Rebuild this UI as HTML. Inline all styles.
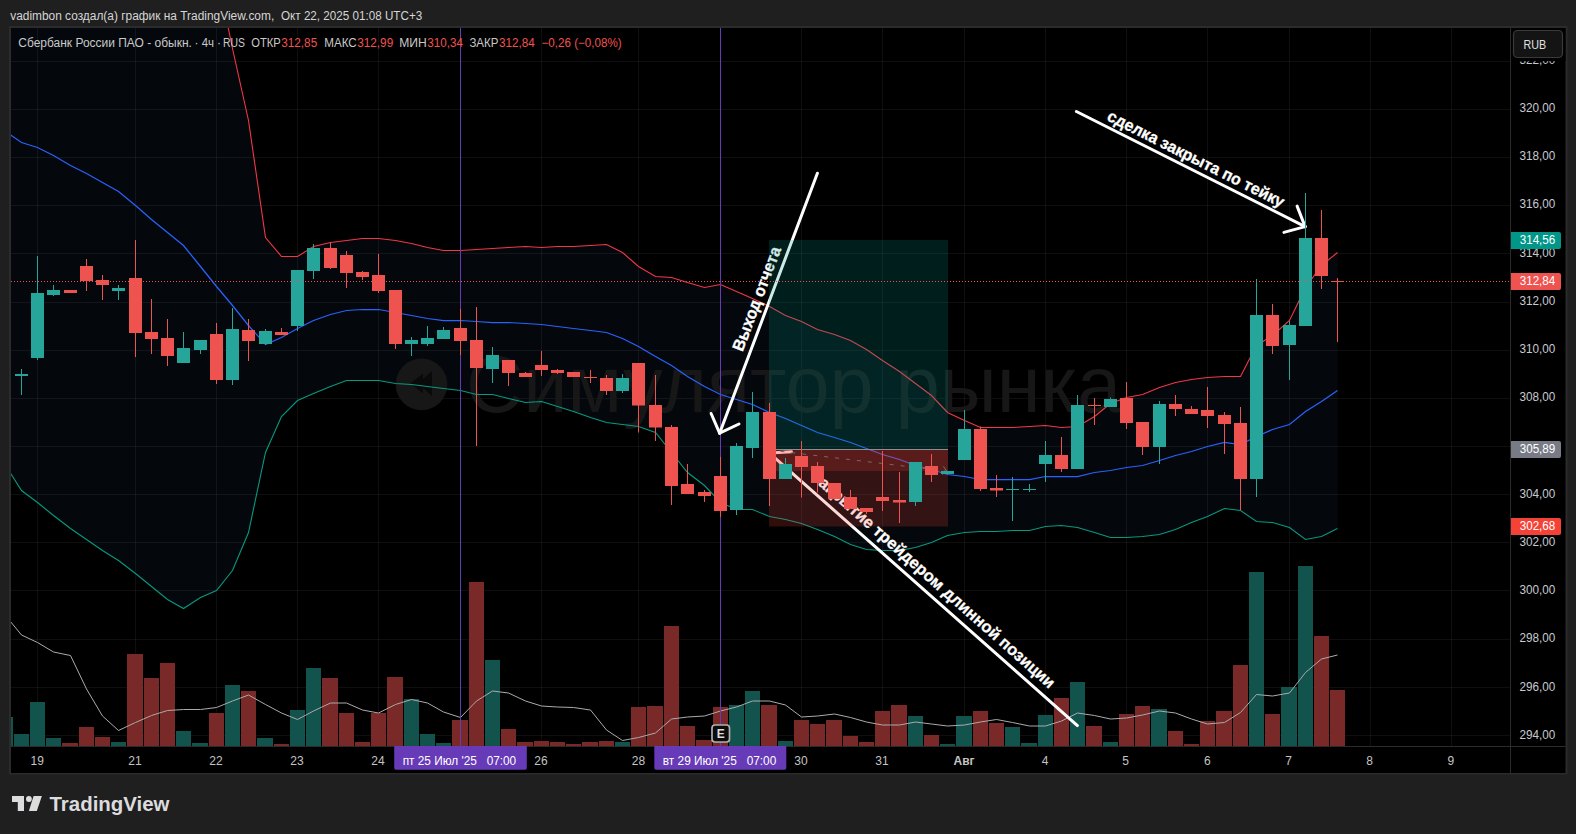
<!DOCTYPE html>
<html lang="ru"><head><meta charset="utf-8"><title>Сбербанк России ПАО — график TradingView</title>
<style>html,body{margin:0;padding:0;background:#1f1f1f;}body{width:1576px;height:834px;overflow:hidden;font-family:"Liberation Sans","DejaVu Sans",sans-serif;}svg{display:block;position:absolute;left:0;top:0}text{font-family:"Liberation Sans","DejaVu Sans",sans-serif;}</style></head><body>
<svg width="1576" height="834" viewBox="0 0 1576 834">
<defs><clipPath id="pane"><rect x="11" y="28" width="1499" height="718"/></clipPath></defs>
<rect width="1576" height="834" fill="#1f1f1f"/>
<text y="19.6" font-size="12" fill="#d6d6d6"><tspan x="10.2" textLength="264" lengthAdjust="spacingAndGlyphs">vadimbon создал(а) график на TradingView.com,</tspan><tspan> </tspan><tspan x="281" textLength="141.2" lengthAdjust="spacingAndGlyphs">Окт 22, 2025 01:08 UTC+3</tspan></text>
<rect x="9" y="26" width="1558.5" height="748.5" fill="#2b2b2b"/>
<rect x="11" y="28" width="1554.5" height="745" fill="#000"/>
<g clip-path="url(#pane)">
<polygon points="5.5,-30.0 216.5,-30.0 232.5,48.0 248.5,120.0 265.5,237.0 281.5,256.0 297.5,256.0 313.5,246.0 330.5,242.0 346.5,240.0 362.5,238.0 378.5,238.0 395.5,240.0 411.5,243.5 427.5,247.0 443.5,250.5 460.5,250.5 476.5,249.5 492.5,248.5 508.5,247.5 525.5,246.5 541.5,247.5 557.5,246.5 573.5,246.0 590.5,245.0 606.5,244.0 622.5,252.5 638.5,266.0 655.5,276.0 671.5,277.0 687.5,282.0 704.5,287.5 720.5,284.5 736.5,291.0 752.5,298.5 769.5,306.0 785.5,315.0 801.5,321.0 817.5,329.0 834.5,334.5 850.5,340.0 866.5,349.0 882.5,360.0 899.5,371.0 915.5,383.0 931.5,395.0 947.5,412.5 964.5,420.0 980.5,427.0 996.5,427.0 1012.5,427.0 1029.5,426.0 1045.5,425.0 1061.5,427.5 1077.5,426.0 1094.5,416.0 1110.5,403.0 1126.5,397.0 1142.5,394.5 1159.5,387.0 1175.5,382.0 1191.5,379.0 1207.5,377.0 1224.5,376.5 1240.5,376.5 1256.5,345.0 1272.5,335.0 1289.5,320.0 1305.5,287.5 1321.5,265.0 1337.5,252.0 1337.5,528.5 1321.5,536.0 1305.5,539.0 1289.5,527.5 1272.5,522.0 1256.5,521.0 1240.5,510.5 1224.5,508.0 1207.5,516.0 1191.5,522.0 1175.5,529.0 1159.5,534.5 1142.5,536.0 1126.5,537.5 1110.5,537.0 1094.5,532.5 1077.5,527.5 1061.5,525.5 1045.5,526.0 1029.5,530.0 1012.5,530.5 996.5,531.0 980.5,531.5 964.5,532.0 947.5,535.5 931.5,542.5 915.5,547.5 899.5,550.5 882.5,550.5 866.5,549.0 850.5,544.0 834.5,536.5 817.5,529.0 801.5,523.0 785.5,519.5 769.5,516.0 752.5,509.0 736.5,509.0 720.5,502.5 704.5,485.0 687.5,472.5 671.5,452.5 655.5,432.5 638.5,426.0 622.5,424.0 606.5,422.0 590.5,417.0 573.5,411.5 557.5,406.0 541.5,401.2 525.5,402.8 508.5,398.4 492.5,394.3 476.5,394.3 460.5,390.1 443.5,388.3 427.5,386.6 411.5,384.8 395.5,383.1 378.5,380.5 362.5,380.0 346.5,380.0 330.5,386.5 313.5,393.5 297.5,400.0 281.5,416.0 265.5,452.5 248.5,532.5 232.5,570.0 216.5,590.0 200.5,597.0 183.5,608.0 167.5,599.0 151.5,586.0 135.5,573.0 118.5,560.0 102.5,550.0 86.5,539.0 70.5,528.0 53.5,515.5 37.5,502.0 21.5,490.5 10.0,472.0 5.5,465.0" fill="#04080c"/>
<line x1="37.5" y1="28" x2="37.5" y2="746" stroke="rgba(255,255,255,0.06)" stroke-width="1"/>
<line x1="135.5" y1="28" x2="135.5" y2="746" stroke="rgba(255,255,255,0.06)" stroke-width="1"/>
<line x1="216.5" y1="28" x2="216.5" y2="746" stroke="rgba(255,255,255,0.06)" stroke-width="1"/>
<line x1="297.5" y1="28" x2="297.5" y2="746" stroke="rgba(255,255,255,0.06)" stroke-width="1"/>
<line x1="378.5" y1="28" x2="378.5" y2="746" stroke="rgba(255,255,255,0.06)" stroke-width="1"/>
<line x1="460.5" y1="28" x2="460.5" y2="746" stroke="rgba(255,255,255,0.06)" stroke-width="1"/>
<line x1="541.5" y1="28" x2="541.5" y2="746" stroke="rgba(255,255,255,0.06)" stroke-width="1"/>
<line x1="638.5" y1="28" x2="638.5" y2="746" stroke="rgba(255,255,255,0.06)" stroke-width="1"/>
<line x1="720.5" y1="28" x2="720.5" y2="746" stroke="rgba(255,255,255,0.06)" stroke-width="1"/>
<line x1="801.5" y1="28" x2="801.5" y2="746" stroke="rgba(255,255,255,0.06)" stroke-width="1"/>
<line x1="882.5" y1="28" x2="882.5" y2="746" stroke="rgba(255,255,255,0.06)" stroke-width="1"/>
<line x1="964.5" y1="28" x2="964.5" y2="746" stroke="rgba(255,255,255,0.06)" stroke-width="1"/>
<line x1="1045.5" y1="28" x2="1045.5" y2="746" stroke="rgba(255,255,255,0.06)" stroke-width="1"/>
<line x1="1126.5" y1="28" x2="1126.5" y2="746" stroke="rgba(255,255,255,0.06)" stroke-width="1"/>
<line x1="1207.5" y1="28" x2="1207.5" y2="746" stroke="rgba(255,255,255,0.06)" stroke-width="1"/>
<line x1="1289.5" y1="28" x2="1289.5" y2="746" stroke="rgba(255,255,255,0.06)" stroke-width="1"/>
<line x1="1370.5" y1="28" x2="1370.5" y2="746" stroke="rgba(255,255,255,0.06)" stroke-width="1"/>
<line x1="1451.5" y1="28" x2="1451.5" y2="746" stroke="rgba(255,255,255,0.06)" stroke-width="1"/>
<line x1="11" y1="735.5" x2="1510" y2="735.5" stroke="rgba(255,255,255,0.06)" stroke-width="1"/>
<line x1="11" y1="687.5" x2="1510" y2="687.5" stroke="rgba(255,255,255,0.06)" stroke-width="1"/>
<line x1="11" y1="639.5" x2="1510" y2="639.5" stroke="rgba(255,255,255,0.06)" stroke-width="1"/>
<line x1="11" y1="590.5" x2="1510" y2="590.5" stroke="rgba(255,255,255,0.06)" stroke-width="1"/>
<line x1="11" y1="542.5" x2="1510" y2="542.5" stroke="rgba(255,255,255,0.06)" stroke-width="1"/>
<line x1="11" y1="494.5" x2="1510" y2="494.5" stroke="rgba(255,255,255,0.06)" stroke-width="1"/>
<line x1="11" y1="446.5" x2="1510" y2="446.5" stroke="rgba(255,255,255,0.06)" stroke-width="1"/>
<line x1="11" y1="398.5" x2="1510" y2="398.5" stroke="rgba(255,255,255,0.06)" stroke-width="1"/>
<line x1="11" y1="350.5" x2="1510" y2="350.5" stroke="rgba(255,255,255,0.06)" stroke-width="1"/>
<line x1="11" y1="302.5" x2="1510" y2="302.5" stroke="rgba(255,255,255,0.06)" stroke-width="1"/>
<line x1="11" y1="253.5" x2="1510" y2="253.5" stroke="rgba(255,255,255,0.06)" stroke-width="1"/>
<line x1="11" y1="205.5" x2="1510" y2="205.5" stroke="rgba(255,255,255,0.06)" stroke-width="1"/>
<line x1="11" y1="157.5" x2="1510" y2="157.5" stroke="rgba(255,255,255,0.06)" stroke-width="1"/>
<line x1="11" y1="109.5" x2="1510" y2="109.5" stroke="rgba(255,255,255,0.06)" stroke-width="1"/>
<line x1="11" y1="61.5" x2="1510" y2="61.5" stroke="rgba(255,255,255,0.06)" stroke-width="1"/>
<g fill="#171717"><circle cx="421.5" cy="384.4" r="25.8"/>
<path d="M423 373.5 L410.4 383.5 L423 393.5 Z M432 371 L418 383.5 L432 396 Z" fill="#0a0a0a"/>
<text x="466" y="412.3" font-size="80" textLength="655" lengthAdjust="spacingAndGlyphs">Симулятор рынка</text></g>
<polyline points="216.5,-29.5 232.5,48.5 248.5,120.5 265.5,237.5 281.5,256.5 297.5,256.5 313.5,246.5 330.5,242.5 346.5,240.5 362.5,238.5 378.5,238.5 395.5,240.5 411.5,243.5 427.5,247.5 443.5,250.5 460.5,250.5 476.5,249.5 492.5,248.5 508.5,247.5 525.5,246.5 541.5,247.5 557.5,246.5 573.5,246.5 590.5,245.5 606.5,244.5 622.5,252.5 638.5,266.5 655.5,276.5 671.5,277.5 687.5,282.5 704.5,287.5 720.5,284.5 736.5,291.5 752.5,298.5 769.5,306.5 785.5,315.5 801.5,321.5 817.5,329.5 834.5,334.5 850.5,340.5 866.5,349.5 882.5,360.5 899.5,371.5 915.5,383.5 931.5,395.5 947.5,412.5 964.5,420.5 980.5,427.5 996.5,427.5 1012.5,427.5 1029.5,426.5 1045.5,425.5 1061.5,427.5 1077.5,426.5 1094.5,416.5 1110.5,403.5 1126.5,397.5 1142.5,394.5 1159.5,387.5 1175.5,382.5 1191.5,379.5 1207.5,377.5 1224.5,376.5 1240.5,376.5 1256.5,345.5 1272.5,335.5 1289.5,320.5 1305.5,287.5 1321.5,265.5 1337.5,252.5" fill="none" stroke="#f23645" stroke-width="1.1"/>
<polyline points="5.5,465.5 10.0,472.5 21.5,490.5 37.5,502.5 53.5,515.5 70.5,528.5 86.5,539.5 102.5,550.5 118.5,560.5 135.5,573.5 151.5,586.5 167.5,599.5 183.5,608.5 200.5,597.5 216.5,590.5 232.5,570.5 248.5,532.5 265.5,452.5 281.5,416.5 297.5,400.5 313.5,393.5 330.5,386.5 346.5,380.5 362.5,380.5 378.5,380.5 395.5,383.5 411.5,384.5 427.5,386.5 443.5,388.5 460.5,390.5 476.5,394.5 492.5,394.5 508.5,398.5 525.5,402.5 541.5,401.5 557.5,406.5 573.5,411.5 590.5,417.5 606.5,422.5 622.5,424.5 638.5,426.5 655.5,432.5 671.5,452.5 687.5,472.5 704.5,485.5 720.5,502.5 736.5,509.5 752.5,509.5 769.5,516.5 785.5,519.5 801.5,523.5 817.5,529.5 834.5,536.5 850.5,544.5 866.5,549.5 882.5,550.5 899.5,550.5 915.5,547.5 931.5,542.5 947.5,535.5 964.5,532.5 980.5,531.5 996.5,531.5 1012.5,530.5 1029.5,530.5 1045.5,526.5 1061.5,525.5 1077.5,527.5 1094.5,532.5 1110.5,537.5 1126.5,537.5 1142.5,536.5 1159.5,534.5 1175.5,529.5 1191.5,522.5 1207.5,516.5 1224.5,508.5 1240.5,510.5 1256.5,521.5 1272.5,522.5 1289.5,527.5 1305.5,539.5 1321.5,536.5 1337.5,528.5" fill="none" stroke="#089981" stroke-width="1.1"/>
<polyline points="5.5,131.5 21.5,142.5 37.5,147.5 53.5,155.5 70.5,165.5 86.5,173.5 102.5,182.5 118.5,191.5 135.5,205.5 151.5,219.5 167.5,232.5 183.5,245.5 200.5,266.5 216.5,286.5 232.5,305.5 248.5,325.5 265.5,344.5 281.5,337.5 297.5,328.5 313.5,320.5 330.5,314.5 346.5,310.5 362.5,309.5 378.5,309.5 395.5,312.5 411.5,315.5 427.5,318.5 443.5,320.5 460.5,320.5 476.5,321.5 492.5,322.5 508.5,322.5 525.5,323.5 541.5,324.5 557.5,326.5 573.5,328.5 590.5,330.5 606.5,332.5 622.5,338.5 638.5,346.5 655.5,356.5 671.5,365.5 687.5,376.5 704.5,386.5 720.5,394.5 736.5,399.5 752.5,404.5 769.5,412.5 785.5,418.5 801.5,425.5 817.5,432.5 834.5,437.5 850.5,442.5 866.5,448.5 882.5,454.5 899.5,459.5 915.5,465.5 931.5,469.5 947.5,474.5 964.5,476.5 980.5,479.5 996.5,479.5 1012.5,479.5 1029.5,479.5 1045.5,476.5 1061.5,476.5 1077.5,476.5 1094.5,472.5 1110.5,470.5 1126.5,467.5 1142.5,465.5 1159.5,460.5 1175.5,455.5 1191.5,451.5 1207.5,446.5 1224.5,442.5 1240.5,444.5 1256.5,436.5 1272.5,429.5 1289.5,424.5 1305.5,411.5 1321.5,401.5 1337.5,390.5" fill="none" stroke="#2962ff" stroke-width="1.25"/>
<rect x="-2.0" y="717.0" width="15.0" height="29.0" fill="#13534d"/>
<rect x="14.0" y="734.0" width="15.0" height="12.0" fill="#13534d"/>
<rect x="30.0" y="702.0" width="15.0" height="44.0" fill="#13534d"/>
<rect x="46.0" y="738.0" width="15.0" height="8.0" fill="#13534d"/>
<rect x="62.0" y="743.0" width="16.0" height="3.0" fill="#782928"/>
<rect x="79.0" y="727.0" width="15.0" height="19.0" fill="#782928"/>
<rect x="95.0" y="737.0" width="15.0" height="9.0" fill="#782928"/>
<rect x="111.0" y="742.0" width="15.0" height="4.0" fill="#13534d"/>
<rect x="127.0" y="654.0" width="16.0" height="92.0" fill="#782928"/>
<rect x="144.0" y="678.0" width="15.0" height="68.0" fill="#782928"/>
<rect x="160.0" y="663.0" width="15.0" height="83.0" fill="#782928"/>
<rect x="176.0" y="731.0" width="15.0" height="15.0" fill="#13534d"/>
<rect x="192.0" y="743.0" width="16.0" height="3.0" fill="#13534d"/>
<rect x="209.0" y="713.0" width="15.0" height="33.0" fill="#782928"/>
<rect x="225.0" y="685.0" width="15.0" height="61.0" fill="#13534d"/>
<rect x="241.0" y="691.0" width="15.0" height="55.0" fill="#782928"/>
<rect x="257.0" y="738.0" width="16.0" height="8.0" fill="#13534d"/>
<rect x="274.0" y="744.0" width="15.0" height="2.0" fill="#782928"/>
<rect x="290.0" y="710.0" width="15.0" height="36.0" fill="#13534d"/>
<rect x="306.0" y="668.0" width="15.0" height="78.0" fill="#13534d"/>
<rect x="322.0" y="678.0" width="16.0" height="68.0" fill="#782928"/>
<rect x="339.0" y="713.0" width="15.0" height="33.0" fill="#782928"/>
<rect x="355.0" y="742.0" width="15.0" height="4.0" fill="#782928"/>
<rect x="371.0" y="713.0" width="15.0" height="33.0" fill="#782928"/>
<rect x="387.0" y="677.0" width="16.0" height="69.0" fill="#782928"/>
<rect x="404.0" y="699.0" width="15.0" height="47.0" fill="#13534d"/>
<rect x="420.0" y="734.0" width="15.0" height="12.0" fill="#13534d"/>
<rect x="436.0" y="743.0" width="15.0" height="3.0" fill="#13534d"/>
<rect x="452.0" y="720.0" width="16.0" height="26.0" fill="#782928"/>
<rect x="469.0" y="582.0" width="15.0" height="164.0" fill="#782928"/>
<rect x="485.0" y="660.0" width="15.0" height="86.0" fill="#13534d"/>
<rect x="501.0" y="729.0" width="15.0" height="17.0" fill="#782928"/>
<rect x="517.0" y="742.0" width="16.0" height="4.0" fill="#782928"/>
<rect x="534.0" y="741.0" width="15.0" height="5.0" fill="#782928"/>
<rect x="550.0" y="742.0" width="15.0" height="4.0" fill="#782928"/>
<rect x="566.0" y="744.0" width="15.0" height="2.0" fill="#782928"/>
<rect x="582.0" y="742.0" width="16.0" height="4.0" fill="#782928"/>
<rect x="599.0" y="741.0" width="15.0" height="5.0" fill="#782928"/>
<rect x="615.0" y="742.0" width="15.0" height="4.0" fill="#13534d"/>
<rect x="631.0" y="707.0" width="15.0" height="39.0" fill="#782928"/>
<rect x="647.0" y="706.0" width="16.0" height="40.0" fill="#782928"/>
<rect x="664.0" y="626.0" width="15.0" height="120.0" fill="#782928"/>
<rect x="680.0" y="726.0" width="15.0" height="20.0" fill="#782928"/>
<rect x="696.0" y="740.0" width="16.0" height="6.0" fill="#782928"/>
<rect x="713.0" y="707.0" width="15.0" height="39.0" fill="#782928"/>
<rect x="729.0" y="705.0" width="15.0" height="41.0" fill="#13534d"/>
<rect x="745.0" y="691.0" width="15.0" height="55.0" fill="#13534d"/>
<rect x="761.0" y="705.0" width="16.0" height="41.0" fill="#782928"/>
<rect x="778.0" y="741.0" width="15.0" height="5.0" fill="#13534d"/>
<rect x="794.0" y="720.0" width="15.0" height="26.0" fill="#782928"/>
<rect x="810.0" y="724.0" width="15.0" height="22.0" fill="#782928"/>
<rect x="826.0" y="720.0" width="16.0" height="26.0" fill="#782928"/>
<rect x="843.0" y="736.0" width="15.0" height="10.0" fill="#782928"/>
<rect x="859.0" y="742.0" width="15.0" height="4.0" fill="#782928"/>
<rect x="875.0" y="711.0" width="15.0" height="35.0" fill="#782928"/>
<rect x="891.0" y="705.0" width="16.0" height="41.0" fill="#782928"/>
<rect x="908.0" y="716.0" width="15.0" height="30.0" fill="#13534d"/>
<rect x="924.0" y="735.0" width="15.0" height="11.0" fill="#782928"/>
<rect x="940.0" y="744.0" width="15.0" height="2.0" fill="#13534d"/>
<rect x="956.0" y="716.0" width="16.0" height="30.0" fill="#13534d"/>
<rect x="973.0" y="711.0" width="15.0" height="35.0" fill="#782928"/>
<rect x="989.0" y="723.0" width="15.0" height="23.0" fill="#782928"/>
<rect x="1005.0" y="727.0" width="15.0" height="19.0" fill="#13534d"/>
<rect x="1021.0" y="743.0" width="16.0" height="3.0" fill="#13534d"/>
<rect x="1038.0" y="715.0" width="15.0" height="31.0" fill="#13534d"/>
<rect x="1054.0" y="698.0" width="15.0" height="48.0" fill="#782928"/>
<rect x="1070.0" y="682.0" width="15.0" height="64.0" fill="#13534d"/>
<rect x="1086.0" y="726.0" width="16.0" height="20.0" fill="#782928"/>
<rect x="1103.0" y="742.0" width="15.0" height="4.0" fill="#13534d"/>
<rect x="1119.0" y="714.0" width="15.0" height="32.0" fill="#782928"/>
<rect x="1135.0" y="706.0" width="15.0" height="40.0" fill="#782928"/>
<rect x="1151.0" y="709.0" width="16.0" height="37.0" fill="#13534d"/>
<rect x="1168.0" y="731.0" width="15.0" height="15.0" fill="#782928"/>
<rect x="1184.0" y="744.0" width="15.0" height="2.0" fill="#782928"/>
<rect x="1200.0" y="721.0" width="15.0" height="25.0" fill="#782928"/>
<rect x="1216.0" y="711.0" width="16.0" height="35.0" fill="#782928"/>
<rect x="1233.0" y="665.0" width="15.0" height="81.0" fill="#782928"/>
<rect x="1249.0" y="572.0" width="15.0" height="174.0" fill="#13534d"/>
<rect x="1265.0" y="714.0" width="15.0" height="32.0" fill="#782928"/>
<rect x="1281.0" y="687.0" width="16.0" height="59.0" fill="#13534d"/>
<rect x="1298.0" y="566.0" width="15.0" height="180.0" fill="#13534d"/>
<rect x="1314.0" y="636.0" width="15.0" height="110.0" fill="#782928"/>
<rect x="1330.0" y="690.0" width="15.0" height="56.0" fill="#782928"/>
<polyline points="5.5,615.0 10.0,621.0 21.5,635.0 37.5,642.5 53.5,652.0 70.5,655.5 86.5,689.0 102.5,716.0 118.5,730.5 135.5,722.5 151.5,715.5 167.5,710.5 183.5,709.5 200.5,709.5 216.5,707.5 232.5,701.0 248.5,695.0 265.5,704.5 281.5,713.0 297.5,719.5 313.5,711.0 330.5,703.0 346.5,703.0 362.5,710.0 378.5,713.0 395.5,704.5 411.5,699.5 427.5,703.0 443.5,712.0 460.5,717.5 476.5,701.0 492.5,691.0 508.5,693.0 525.5,701.0 541.5,706.0 557.5,707.0 573.5,707.5 590.5,710.0 606.5,730.0 622.5,740.5 638.5,737.5 655.5,733.0 671.5,719.0 687.5,717.0 704.5,716.0 720.5,711.0 736.5,707.0 752.5,701.0 769.5,701.0 785.5,705.0 801.5,717.0 817.5,716.0 834.5,714.0 850.5,717.5 866.5,722.0 882.5,725.0 899.5,725.0 915.5,722.0 931.5,724.0 947.5,726.0 964.5,725.0 980.5,722.0 996.5,719.5 1012.5,722.5 1029.5,726.0 1045.5,726.0 1061.5,721.0 1077.5,713.0 1094.5,715.5 1110.5,719.0 1126.5,718.0 1142.5,715.0 1159.5,711.0 1175.5,713.0 1191.5,719.0 1207.5,724.0 1224.5,722.5 1240.5,712.5 1256.5,694.5 1272.5,696.0 1289.5,693.0 1305.5,672.5 1321.5,659.0 1337.5,655.0" fill="none" stroke="#ababab" stroke-width="1"/>
<line x1="460.5" y1="28" x2="460.5" y2="746" stroke="#673ab7" stroke-width="1"/>
<line x1="720.5" y1="28" x2="720.5" y2="746" stroke="#673ab7" stroke-width="1"/>
<g stroke="#fff" stroke-width="3" stroke-linecap="round" fill="none">
<line x1="1077.4" y1="725.6" x2="769.5" y2="453.1"/>
<line x1="769.5" y1="453.1" x2="791.5" y2="451.8"/>
<line x1="769.5" y1="453.1" x2="770.8" y2="475.1"/>
</g>
<text transform="translate(923.5 589.4) rotate(41.51)" x="-159.4" y="-8.5" font-size="16.5" font-weight="bold" fill="#fff" stroke="#fff" stroke-width="0.3" textLength="319.5" lengthAdjust="spacingAndGlyphs">Закрытие трейдером длинной позиции</text>
<g stroke="#fff" stroke-width="3" stroke-linecap="round" fill="none">
<line x1="817.4" y1="173.2" x2="719.6" y2="433.2"/>
<line x1="719.6" y1="433.2" x2="711.1" y2="413.5"/>
<line x1="719.6" y1="433.2" x2="739.0" y2="424.0"/>
</g>
<text transform="translate(768.5 303.2) rotate(290.61)" x="-55.0" y="-7.0" font-size="16.5" font-weight="bold" fill="#fff" stroke="#fff" stroke-width="0.3" textLength="110.0" lengthAdjust="spacingAndGlyphs">Выход отчета</text>
<rect x="769" y="240" width="179" height="209.5" fill="#009688" fill-opacity="0.2"/>
<rect x="769" y="449.5" width="179" height="77" fill="#f44336" fill-opacity="0.2"/>
<rect x="769" y="449.5" width="179" height="21.5" fill="#f44336" fill-opacity="0.2"/>
<line x1="769" y1="449.5" x2="948" y2="449.5" stroke="#8e8e8e" stroke-width="1"/>
<line x1="769.5" y1="450" x2="945.5" y2="471" stroke="#6c6c6c" stroke-width="1" stroke-dasharray="4 7"/>
<path d="M943.5 466.5 L946.5 471 L942.5 474.5" stroke="#727272" stroke-width="1" fill="none"/>
<g stroke="#fff" stroke-width="3" stroke-linecap="round" fill="none">
<line x1="1076.4" y1="111.5" x2="1305.1" y2="226.6"/>
<line x1="1305.1" y1="226.6" x2="1283.9" y2="232.4"/>
<line x1="1305.1" y1="226.6" x2="1297.1" y2="206.1"/>
</g>
<text transform="translate(1190.8 169.1) rotate(26.72)" x="-98.0" y="-6.0" font-size="16.5" font-weight="bold" fill="#fff" stroke="#fff" stroke-width="0.3" textLength="196.0" lengthAdjust="spacingAndGlyphs">сделка закрыта по тейку</text>
<rect x="21.0" y="369.0" width="1" height="26.0" fill="#26a69a"/>
<rect x="15.0" y="374.0" width="13" height="2.0" fill="#26a69a"/>
<rect x="37.0" y="256.0" width="1" height="104.0" fill="#26a69a"/>
<rect x="31.0" y="293.0" width="13" height="65.0" fill="#26a69a"/>
<rect x="53.0" y="285.0" width="1" height="11.0" fill="#26a69a"/>
<rect x="47.0" y="290.0" width="13" height="5.0" fill="#26a69a"/>
<rect x="70.0" y="290.0" width="1" height="3.0" fill="#ef5350"/>
<rect x="64.0" y="290.0" width="13" height="3.0" fill="#ef5350"/>
<rect x="86.0" y="259.0" width="1" height="32.0" fill="#ef5350"/>
<rect x="80.0" y="266.0" width="13" height="15.0" fill="#ef5350"/>
<rect x="102.0" y="275.0" width="1" height="25.0" fill="#ef5350"/>
<rect x="96.0" y="280.0" width="13" height="5.0" fill="#ef5350"/>
<rect x="118.0" y="285.0" width="1" height="15.0" fill="#26a69a"/>
<rect x="112.0" y="288.0" width="13" height="3.0" fill="#26a69a"/>
<rect x="135.0" y="240.0" width="1" height="117.0" fill="#ef5350"/>
<rect x="129.0" y="278.0" width="13" height="55.0" fill="#ef5350"/>
<rect x="151.0" y="299.0" width="1" height="55.0" fill="#ef5350"/>
<rect x="145.0" y="332.0" width="13" height="7.0" fill="#ef5350"/>
<rect x="167.0" y="319.0" width="1" height="47.0" fill="#ef5350"/>
<rect x="161.0" y="338.0" width="13" height="18.0" fill="#ef5350"/>
<rect x="183.0" y="332.0" width="1" height="31.0" fill="#26a69a"/>
<rect x="177.0" y="348.0" width="13" height="15.0" fill="#26a69a"/>
<rect x="200.0" y="340.0" width="1" height="14.0" fill="#26a69a"/>
<rect x="194.0" y="340.0" width="13" height="10.0" fill="#26a69a"/>
<rect x="216.0" y="323.0" width="1" height="61.0" fill="#ef5350"/>
<rect x="210.0" y="334.0" width="13" height="46.0" fill="#ef5350"/>
<rect x="232.0" y="308.0" width="1" height="77.0" fill="#26a69a"/>
<rect x="226.0" y="329.0" width="13" height="51.0" fill="#26a69a"/>
<rect x="248.0" y="319.0" width="1" height="42.0" fill="#ef5350"/>
<rect x="242.0" y="330.0" width="13" height="11.0" fill="#ef5350"/>
<rect x="265.0" y="329.0" width="1" height="16.0" fill="#26a69a"/>
<rect x="259.0" y="331.0" width="13" height="13.0" fill="#26a69a"/>
<rect x="281.0" y="328.0" width="1" height="7.0" fill="#ef5350"/>
<rect x="275.0" y="332.0" width="13" height="3.0" fill="#ef5350"/>
<rect x="297.0" y="270.0" width="1" height="61.0" fill="#26a69a"/>
<rect x="291.0" y="270.0" width="13" height="56.0" fill="#26a69a"/>
<rect x="313.0" y="244.0" width="1" height="35.0" fill="#26a69a"/>
<rect x="307.0" y="248.0" width="13" height="23.0" fill="#26a69a"/>
<rect x="330.0" y="242.0" width="1" height="27.0" fill="#ef5350"/>
<rect x="324.0" y="248.0" width="13" height="20.0" fill="#ef5350"/>
<rect x="346.0" y="251.0" width="1" height="37.0" fill="#ef5350"/>
<rect x="340.0" y="255.0" width="13" height="18.0" fill="#ef5350"/>
<rect x="362.0" y="271.0" width="1" height="9.0" fill="#ef5350"/>
<rect x="356.0" y="272.0" width="13" height="5.0" fill="#ef5350"/>
<rect x="378.0" y="254.0" width="1" height="39.0" fill="#ef5350"/>
<rect x="372.0" y="275.0" width="13" height="16.0" fill="#ef5350"/>
<rect x="395.0" y="290.0" width="1" height="59.0" fill="#ef5350"/>
<rect x="389.0" y="290.0" width="13" height="54.0" fill="#ef5350"/>
<rect x="411.0" y="337.0" width="1" height="19.0" fill="#26a69a"/>
<rect x="405.0" y="340.0" width="13" height="4.0" fill="#26a69a"/>
<rect x="427.0" y="326.0" width="1" height="20.0" fill="#26a69a"/>
<rect x="421.0" y="338.0" width="13" height="6.0" fill="#26a69a"/>
<rect x="443.0" y="327.0" width="1" height="12.0" fill="#26a69a"/>
<rect x="437.0" y="330.0" width="13" height="9.0" fill="#26a69a"/>
<rect x="460.0" y="309.0" width="1" height="46.0" fill="#ef5350"/>
<rect x="454.0" y="328.0" width="13" height="13.0" fill="#ef5350"/>
<rect x="476.0" y="307.0" width="1" height="139.0" fill="#ef5350"/>
<rect x="470.0" y="340.0" width="13" height="28.0" fill="#ef5350"/>
<rect x="492.0" y="347.0" width="1" height="36.0" fill="#26a69a"/>
<rect x="486.0" y="355.0" width="13" height="14.0" fill="#26a69a"/>
<rect x="508.0" y="360.0" width="1" height="26.0" fill="#ef5350"/>
<rect x="502.0" y="360.0" width="13" height="13.0" fill="#ef5350"/>
<rect x="525.0" y="372.0" width="1" height="5.0" fill="#ef5350"/>
<rect x="519.0" y="373.0" width="13" height="4.0" fill="#ef5350"/>
<rect x="541.0" y="351.0" width="1" height="25.0" fill="#ef5350"/>
<rect x="535.0" y="365.0" width="13" height="5.0" fill="#ef5350"/>
<rect x="557.0" y="369.0" width="1" height="5.0" fill="#ef5350"/>
<rect x="551.0" y="370.0" width="13" height="3.0" fill="#ef5350"/>
<rect x="573.0" y="372.0" width="1" height="5.0" fill="#ef5350"/>
<rect x="567.0" y="372.0" width="13" height="5.0" fill="#ef5350"/>
<rect x="590.0" y="370.0" width="1" height="13.0" fill="#ef5350"/>
<rect x="584.0" y="377.0" width="13" height="1.0" fill="#ef5350"/>
<rect x="606.0" y="375.0" width="1" height="20.0" fill="#ef5350"/>
<rect x="600.0" y="378.0" width="13" height="13.0" fill="#ef5350"/>
<rect x="622.0" y="374.0" width="1" height="19.0" fill="#26a69a"/>
<rect x="616.0" y="378.0" width="13" height="13.0" fill="#26a69a"/>
<rect x="638.0" y="363.0" width="1" height="69.5" fill="#ef5350"/>
<rect x="632.0" y="363.0" width="13" height="42.5" fill="#ef5350"/>
<rect x="655.0" y="375.0" width="1" height="66.0" fill="#ef5350"/>
<rect x="649.0" y="405.0" width="13" height="22.5" fill="#ef5350"/>
<rect x="671.0" y="425.0" width="1" height="80.0" fill="#ef5350"/>
<rect x="665.0" y="427.0" width="13" height="59.0" fill="#ef5350"/>
<rect x="687.0" y="464.0" width="1" height="30.0" fill="#ef5350"/>
<rect x="681.0" y="484.0" width="13" height="10.0" fill="#ef5350"/>
<rect x="704.0" y="490.0" width="1" height="12.0" fill="#ef5350"/>
<rect x="698.0" y="492.0" width="13" height="4.0" fill="#ef5350"/>
<rect x="720.0" y="457.0" width="1" height="60.0" fill="#ef5350"/>
<rect x="714.0" y="476.0" width="13" height="35.0" fill="#ef5350"/>
<rect x="736.0" y="443.0" width="1" height="72.0" fill="#26a69a"/>
<rect x="730.0" y="446.0" width="13" height="64.0" fill="#26a69a"/>
<rect x="752.0" y="392.0" width="1" height="66.0" fill="#26a69a"/>
<rect x="746.0" y="412.0" width="13" height="36.0" fill="#26a69a"/>
<rect x="769.0" y="403.0" width="1" height="103.0" fill="#ef5350"/>
<rect x="763.0" y="412.0" width="13" height="67.0" fill="#ef5350"/>
<rect x="785.0" y="458.0" width="1" height="21.0" fill="#26a69a"/>
<rect x="779.0" y="464.0" width="13" height="15.0" fill="#26a69a"/>
<rect x="801.0" y="441.0" width="1" height="56.5" fill="#ef5350"/>
<rect x="795.0" y="456.0" width="13" height="11.0" fill="#ef5350"/>
<rect x="817.0" y="462.0" width="1" height="30.5" fill="#ef5350"/>
<rect x="811.0" y="466.0" width="13" height="17.0" fill="#ef5350"/>
<rect x="834.0" y="483.0" width="1" height="16.0" fill="#ef5350"/>
<rect x="828.0" y="483.0" width="13" height="16.0" fill="#ef5350"/>
<rect x="850.0" y="490.0" width="1" height="19.0" fill="#ef5350"/>
<rect x="844.0" y="497.0" width="13" height="12.0" fill="#ef5350"/>
<rect x="866.0" y="508.0" width="1" height="6.0" fill="#ef5350"/>
<rect x="860.0" y="508.0" width="13" height="4.0" fill="#ef5350"/>
<rect x="882.0" y="451.0" width="1" height="60.0" fill="#ef5350"/>
<rect x="876.0" y="497.0" width="13" height="4.0" fill="#ef5350"/>
<rect x="899.0" y="472.0" width="1" height="51.0" fill="#ef5350"/>
<rect x="893.0" y="500.0" width="13" height="2.5" fill="#ef5350"/>
<rect x="915.0" y="462.0" width="1" height="44.0" fill="#26a69a"/>
<rect x="909.0" y="462.0" width="13" height="40.0" fill="#26a69a"/>
<rect x="931.0" y="454.0" width="1" height="28.0" fill="#ef5350"/>
<rect x="925.0" y="466.0" width="13" height="9.0" fill="#ef5350"/>
<rect x="947.0" y="471.0" width="1" height="3.0" fill="#26a69a"/>
<rect x="941.0" y="471.0" width="13" height="3.0" fill="#26a69a"/>
<rect x="964.0" y="410.0" width="1" height="50.0" fill="#26a69a"/>
<rect x="958.0" y="429.0" width="13" height="31.0" fill="#26a69a"/>
<rect x="980.0" y="426.5" width="1" height="64.5" fill="#ef5350"/>
<rect x="974.0" y="429.0" width="13" height="60.0" fill="#ef5350"/>
<rect x="996.0" y="475.0" width="1" height="22.0" fill="#ef5350"/>
<rect x="990.0" y="488.0" width="13" height="2.5" fill="#ef5350"/>
<rect x="1012.0" y="477.0" width="1" height="44.0" fill="#26a69a"/>
<rect x="1006.0" y="489.0" width="13" height="1.0" fill="#26a69a"/>
<rect x="1029.0" y="484.0" width="1" height="8.0" fill="#26a69a"/>
<rect x="1023.0" y="489.0" width="13" height="1.0" fill="#26a69a"/>
<rect x="1045.0" y="441.0" width="1" height="41.0" fill="#26a69a"/>
<rect x="1039.0" y="455.0" width="13" height="9.0" fill="#26a69a"/>
<rect x="1061.0" y="437.0" width="1" height="35.0" fill="#ef5350"/>
<rect x="1055.0" y="455.0" width="13" height="14.0" fill="#ef5350"/>
<rect x="1077.0" y="395.0" width="1" height="74.0" fill="#26a69a"/>
<rect x="1071.0" y="405.0" width="13" height="64.0" fill="#26a69a"/>
<rect x="1094.0" y="398.0" width="1" height="27.0" fill="#ef5350"/>
<rect x="1088.0" y="405.0" width="13" height="1.0" fill="#ef5350"/>
<rect x="1110.0" y="397.5" width="1" height="9.5" fill="#26a69a"/>
<rect x="1104.0" y="399.0" width="13" height="8.0" fill="#26a69a"/>
<rect x="1126.0" y="382.0" width="1" height="47.0" fill="#ef5350"/>
<rect x="1120.0" y="398.0" width="13" height="25.0" fill="#ef5350"/>
<rect x="1142.0" y="422.0" width="1" height="33.0" fill="#ef5350"/>
<rect x="1136.0" y="422.0" width="13" height="25.0" fill="#ef5350"/>
<rect x="1159.0" y="401.0" width="1" height="63.0" fill="#26a69a"/>
<rect x="1153.0" y="404.0" width="13" height="43.0" fill="#26a69a"/>
<rect x="1175.0" y="395.0" width="1" height="21.0" fill="#ef5350"/>
<rect x="1169.0" y="404.0" width="13" height="5.0" fill="#ef5350"/>
<rect x="1191.0" y="406.0" width="1" height="8.0" fill="#ef5350"/>
<rect x="1185.0" y="409.0" width="13" height="5.0" fill="#ef5350"/>
<rect x="1207.0" y="387.0" width="1" height="41.0" fill="#ef5350"/>
<rect x="1201.0" y="410.0" width="13" height="6.0" fill="#ef5350"/>
<rect x="1224.0" y="412.0" width="1" height="42.0" fill="#ef5350"/>
<rect x="1218.0" y="415.0" width="13" height="9.0" fill="#ef5350"/>
<rect x="1240.0" y="407.0" width="1" height="103.0" fill="#ef5350"/>
<rect x="1234.0" y="423.0" width="13" height="56.0" fill="#ef5350"/>
<rect x="1256.0" y="279.0" width="1" height="218.0" fill="#26a69a"/>
<rect x="1250.0" y="315.0" width="13" height="164.0" fill="#26a69a"/>
<rect x="1272.0" y="304.0" width="1" height="50.0" fill="#ef5350"/>
<rect x="1266.0" y="315.0" width="13" height="31.0" fill="#ef5350"/>
<rect x="1289.0" y="321.0" width="1" height="59.0" fill="#26a69a"/>
<rect x="1283.0" y="325.0" width="13" height="20.0" fill="#26a69a"/>
<rect x="1305.0" y="193.0" width="1" height="133.0" fill="#26a69a"/>
<rect x="1299.0" y="238.0" width="13" height="88.0" fill="#26a69a"/>
<rect x="1321.0" y="210.0" width="1" height="79.0" fill="#ef5350"/>
<rect x="1315.0" y="238.0" width="13" height="38.0" fill="#ef5350"/>
<rect x="1337.0" y="278.0" width="1" height="64.0" fill="#ef5350"/>
<rect x="1331.0" y="281.0" width="13" height="1.0" fill="#ef5350"/>
<line x1="11" y1="281.5" x2="1510" y2="281.5" stroke="#ef5350" stroke-width="1" stroke-dasharray="1 2"/>
<rect x="712" y="725" width="17.5" height="17" rx="3" fill="#0c0c0c" stroke="#b0b0b0" stroke-width="1.7"/>
<text x="720.7" y="737.9" font-size="12" font-weight="bold" fill="#dcdcdc" text-anchor="middle">E</text>
</g>
<text y="47" font-size="12" fill="#c9c9c9"><tspan x="18.3" textLength="173.6" lengthAdjust="spacingAndGlyphs">Сбербанк России ПАО - обыкн.</tspan><tspan> </tspan><tspan x="194.6">·</tspan><tspan> </tspan><tspan x="201.7" textLength="12.3" lengthAdjust="spacingAndGlyphs">4ч</tspan><tspan> </tspan><tspan x="216.9">·</tspan><tspan> </tspan><tspan x="223" textLength="22" lengthAdjust="spacingAndGlyphs">RUS</tspan></text>
<text x="251.2" y="47.0" font-size="12" fill="#c9c9c9" textLength="29.5" lengthAdjust="spacingAndGlyphs">ОТКР</text>
<text x="281.2" y="47.0" font-size="12" fill="#ef5350" textLength="36.0" lengthAdjust="spacingAndGlyphs">312,85</text>
<text x="324.2" y="47.0" font-size="12" fill="#c9c9c9" textLength="32.5" lengthAdjust="spacingAndGlyphs">МАКС</text>
<text x="357.2" y="47.0" font-size="12" fill="#ef5350" textLength="36.0" lengthAdjust="spacingAndGlyphs">312,99</text>
<text x="399.2" y="47.0" font-size="12" fill="#c9c9c9" textLength="27.5" lengthAdjust="spacingAndGlyphs">МИН</text>
<text x="427.3" y="47.0" font-size="12" fill="#ef5350" textLength="35.6" lengthAdjust="spacingAndGlyphs">310,34</text>
<text x="469.4" y="47.0" font-size="12" fill="#c9c9c9" textLength="29.0" lengthAdjust="spacingAndGlyphs">ЗАКР</text>
<text x="498.9" y="47.0" font-size="12" fill="#ef5350" textLength="35.8" lengthAdjust="spacingAndGlyphs">312,84</text>
<text x="541.6" y="47.0" font-size="12" fill="#ef5350" textLength="80.0" lengthAdjust="spacingAndGlyphs">−0,26 (−0,08%)</text>
<line x1="1510.5" y1="28" x2="1510.5" y2="773" stroke="#2b2b2b" stroke-width="1"/>
<line x1="11" y1="746.5" x2="1565.5" y2="746.5" stroke="#2b2b2b" stroke-width="1"/>
<text x="1519.5" y="738.9" font-size="12" fill="#c8cad0" textLength="35.8" lengthAdjust="spacingAndGlyphs">294,00</text>
<text x="1519.5" y="690.7" font-size="12" fill="#c8cad0" textLength="35.8" lengthAdjust="spacingAndGlyphs">296,00</text>
<text x="1519.5" y="642.4" font-size="12" fill="#c8cad0" textLength="35.8" lengthAdjust="spacingAndGlyphs">298,00</text>
<text x="1519.5" y="594.2" font-size="12" fill="#c8cad0" textLength="35.8" lengthAdjust="spacingAndGlyphs">300,00</text>
<text x="1519.5" y="546.0" font-size="12" fill="#c8cad0" textLength="35.8" lengthAdjust="spacingAndGlyphs">302,00</text>
<text x="1519.5" y="497.7" font-size="12" fill="#c8cad0" textLength="35.8" lengthAdjust="spacingAndGlyphs">304,00</text>
<text x="1519.5" y="401.3" font-size="12" fill="#c8cad0" textLength="35.8" lengthAdjust="spacingAndGlyphs">308,00</text>
<text x="1519.5" y="353.0" font-size="12" fill="#c8cad0" textLength="35.8" lengthAdjust="spacingAndGlyphs">310,00</text>
<text x="1519.5" y="304.8" font-size="12" fill="#c8cad0" textLength="35.8" lengthAdjust="spacingAndGlyphs">312,00</text>
<text x="1519.5" y="256.6" font-size="12" fill="#c8cad0" textLength="35.8" lengthAdjust="spacingAndGlyphs">314,00</text>
<text x="1519.5" y="208.4" font-size="12" fill="#c8cad0" textLength="35.8" lengthAdjust="spacingAndGlyphs">316,00</text>
<text x="1519.5" y="160.1" font-size="12" fill="#c8cad0" textLength="35.8" lengthAdjust="spacingAndGlyphs">318,00</text>
<text x="1519.5" y="111.9" font-size="12" fill="#c8cad0" textLength="35.8" lengthAdjust="spacingAndGlyphs">320,00</text>
<text x="1519.5" y="63.7" font-size="12" fill="#c8cad0" textLength="35.8" lengthAdjust="spacingAndGlyphs">322,00</text>
<rect x="1511" y="28" width="54.5" height="33.2" fill="#000"/>
<rect x="1513.5" y="30.5" width="49" height="27" rx="4" fill="#141414" stroke="#3a3a3a" stroke-width="1.2"/>
<text x="1523.6" y="49.2" font-size="13" fill="#e0e0e0" textLength="22.6" lengthAdjust="spacingAndGlyphs">RUB</text>
<path d="M1511 232.0 H1559 Q1561 232.0 1561 234.0 V247.0 Q1561 249.0 1559 249.0 H1511 Z" fill="#009688"/>
<text x="1519.7" y="244.1" font-size="12" fill="#fff" textLength="35.6" lengthAdjust="spacingAndGlyphs">314,56</text>
<path d="M1511 273.0 H1559 Q1561 273.0 1561 275.0 V288.0 Q1561 290.0 1559 290.0 H1511 Z" fill="#ef5350"/>
<text x="1519.7" y="285.1" font-size="12" fill="#fff" textLength="35.6" lengthAdjust="spacingAndGlyphs">312,84</text>
<path d="M1511 441.0 H1559 Q1561 441.0 1561 443.0 V456.0 Q1561 458.0 1559 458.0 H1511 Z" fill="#787b86"/>
<text x="1519.7" y="453.1" font-size="12" fill="#fff" textLength="35.6" lengthAdjust="spacingAndGlyphs">305,89</text>
<path d="M1511 518.0 H1559 Q1561 518.0 1561 520.0 V533.0 Q1561 535.0 1559 535.0 H1511 Z" fill="#f44336"/>
<text x="1519.7" y="530.1" font-size="12" fill="#fff" textLength="35.6" lengthAdjust="spacingAndGlyphs">302,68</text>
<text x="37.3" y="764.5" font-size="12" fill="#c4c4c4" text-anchor="middle">19</text>
<text x="135.0" y="764.5" font-size="12" fill="#c4c4c4" text-anchor="middle">21</text>
<text x="216.0" y="764.5" font-size="12" fill="#c4c4c4" text-anchor="middle">22</text>
<text x="297.0" y="764.5" font-size="12" fill="#c4c4c4" text-anchor="middle">23</text>
<text x="378.0" y="764.5" font-size="12" fill="#c4c4c4" text-anchor="middle">24</text>
<text x="541.0" y="764.5" font-size="12" fill="#c4c4c4" text-anchor="middle">26</text>
<text x="638.4" y="764.5" font-size="12" fill="#c4c4c4" text-anchor="middle">28</text>
<text x="801.0" y="764.5" font-size="12" fill="#c4c4c4" text-anchor="middle">30</text>
<text x="882.0" y="764.5" font-size="12" fill="#c4c4c4" text-anchor="middle">31</text>
<text x="1045.0" y="764.5" font-size="12" fill="#c4c4c4" text-anchor="middle">4</text>
<text x="1125.7" y="764.5" font-size="12" fill="#c4c4c4" text-anchor="middle">5</text>
<text x="1207.3" y="764.5" font-size="12" fill="#c4c4c4" text-anchor="middle">6</text>
<text x="1288.7" y="764.5" font-size="12" fill="#c4c4c4" text-anchor="middle">7</text>
<text x="1369.7" y="764.5" font-size="12" fill="#c4c4c4" text-anchor="middle">8</text>
<text x="1450.8" y="764.5" font-size="12" fill="#c4c4c4" text-anchor="middle">9</text>
<text x="964.0" y="764.5" font-size="12" fill="#c4c4c4" text-anchor="middle" font-weight="bold">Авг</text>
<path d="M394.2 746 H526.8 V768 Q526.8 769.8 525.0 769.8 H396.0 Q394.2 769.8 394.2 768 Z" fill="#673ab7"/>
<text x="402.7" y="764.5" font-size="12" fill="#fff" textLength="113.5" lengthAdjust="spacingAndGlyphs" xml:space="preserve">пт 25 Июл '25   07:00</text>
<path d="M654.3 746 H786.3 V768 Q786.3 769.8 784.5 769.8 H656.1 Q654.3 769.8 654.3 768 Z" fill="#673ab7"/>
<text x="662.8" y="764.5" font-size="12" fill="#fff" textLength="113.5" lengthAdjust="spacingAndGlyphs" xml:space="preserve">вт 29 Июл '25   07:00</text>
<g fill="#dcdcde"><path d="M12 796 H24 V811 H17.8 V802 H12 Z"/><circle cx="28.9" cy="799" r="2.9"/><path d="M33.6 796 H41.9 L36.8 811 H28.9 Z"/>
<text x="49.5" y="810.8" font-size="21" font-weight="bold" textLength="120" lengthAdjust="spacingAndGlyphs">TradingView</text></g>
</svg></body></html>
